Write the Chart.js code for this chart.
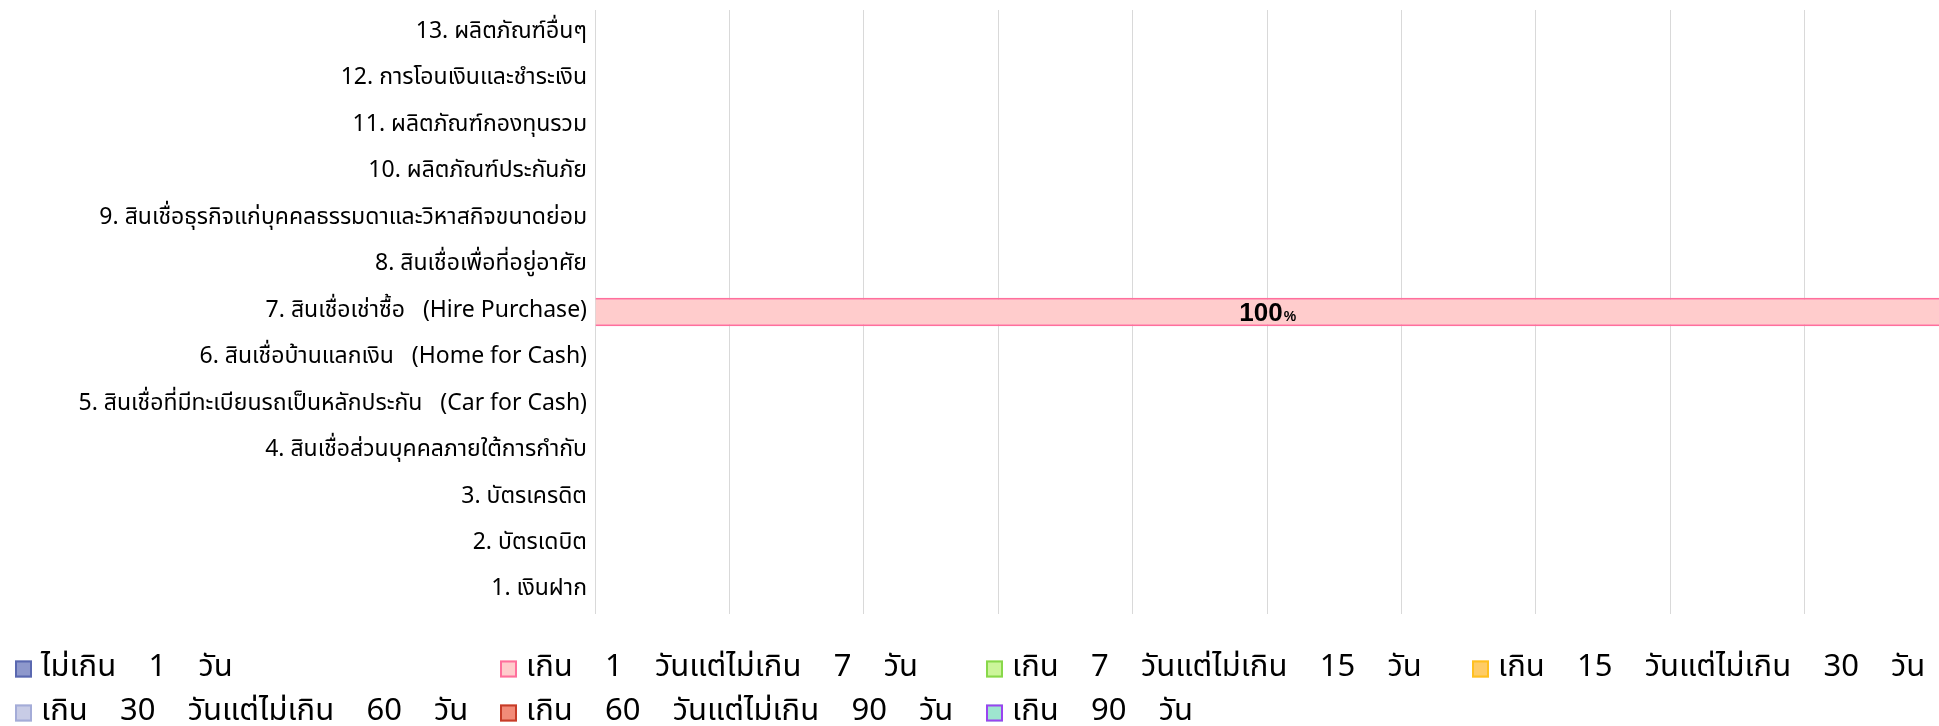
<!DOCTYPE html>
<html>
<head>
<meta charset="utf-8">
<script src="https://cdn.jsdelivr.net/npm/chart.js@4.4.1/dist/chart.umd.min.js"></script>
<style>
	html, body { margin: 0; padding: 0; background: #fff; overflow: hidden; }
	canvas { display: block; }
</style>
</head>
<body>
<canvas id="chart" width="1939" height="726"></canvas>
<script>
// categories, bottom (1) to top (13)
const categories = [
	'1. เงินฝาก',
	'2. บัตรเดบิต',
	'3. บัตรเครดิต',
	'4. สินเชื่อส่วนบุคคลภายใต้การกำกับ',
	'5. สินเชื่อที่มีทะเบียนรถเป็นหลักประกัน   (Car for Cash)',
	'6. สินเชื่อบ้านแลกเงิน   (Home for Cash)',
	'7. สินเชื่อเช่าซื้อ   (Hire Purchase)',
	'8. สินเชื่อเพื่อที่อยู่อาศัย',
	'9. สินเชื่อธุรกิจแก่บุคคลธรรมดาและวิหาสกิจขนาดย่อม',
	'10. ผลิตภัณฑ์ประกันภัย',
	'11. ผลิตภัณฑ์กองทุนรวม',
	'12. การโอนเงินและชำระเงิน',
	'13. ผลิตภัณฑ์อื่นๆ',
];

const seriesNames = [
	'ไม่เกิน    1    วัน',
	'เกิน    1    วันแต่ไม่เกิน    7    วัน',
	'เกิน    7    วันแต่ไม่เกิน    15    วัน',
	'เกิน    15    วันแต่ไม่เกิน    30    วัน',
	'เกิน    30    วันแต่ไม่เกิน    60    วัน',
	'เกิน    60    วันแต่ไม่เกิน    90    วัน',
	'เกิน    90    วัน',
];

// percent share per category
const upTo1Day = [0, 0, 0, 0, 0, 0, 0, 0, 0, 0, 0, 0, 0];
const days1to7 = [0, 0, 0, 0, 0, 0, 100, 0, 0, 0, 0, 0, 0];
const days7to15 = [0, 0, 0, 0, 0, 0, 0, 0, 0, 0, 0, 0, 0];
const days15to30 = [0, 0, 0, 0, 0, 0, 0, 0, 0, 0, 0, 0, 0];
const days30to60 = [0, 0, 0, 0, 0, 0, 0, 0, 0, 0, 0, 0, 0];
const days60to90 = [0, 0, 0, 0, 0, 0, 0, 0, 0, 0, 0, 0, 0];
const over90Days = [0, 0, 0, 0, 0, 0, 0, 0, 0, 0, 0, 0, 0];

const xTicks = [0, 10, 20, 30, 40, 50, 60, 70, 80, 90, 100];

const fills = ['#8e98cc', '#ffcccc', '#ccf59a', '#ffcc66', '#c8cce6', '#f28b78', '#9ee6cf'];
const borders = ['#5a68b0', '#ff6f9c', '#88d84a', '#ffc020', '#a4acd8', '#c63c28', '#9a44f0'];

const seriesData = [upTo1Day, days1to7, days7to15, days15to30, days30to60, days60to90, over90Days];

const thaiFont = "Tahoma, 'Noto Sans Thai', 'Leelawadee UI', 'Noto Sans', sans-serif";

const valueLabels = {
	id: 'valueLabels',
	afterDatasetsDraw(chart) {
		const ctx = chart.ctx;
		const big = "bold 26px 'Liberation Sans', Arial, sans-serif";
		const small = "bold 14px 'Liberation Sans', Arial, sans-serif";
		chart.data.datasets.forEach((ds, di) => {
			const meta = chart.getDatasetMeta(di);
			meta.data.forEach((bar, i) => {
				const v = ds.data[i];
				if (!v) return;
				const cx = (bar.x + bar.base) / 2;
				const cy = bar.y;
				ctx.save();
				ctx.fillStyle = '#000';
				ctx.textBaseline = 'alphabetic';
				const num = String(v);
				ctx.font = big;
				const w1 = ctx.measureText(num).width;
				ctx.font = small;
				const w2 = ctx.measureText('%').width;
				const x = cx - (w1 + w2) / 2;
				ctx.font = big;
				ctx.fillText(num, x, cy + 9);
				ctx.font = small;
				ctx.fillText('%', x + w1 + 1, cy + 9);
				ctx.restore();
			});
		});
	},
};

const gridLegend = {
	id: 'gridLegend',
	afterDraw(chart) {
		const ctx = chart.ctx;
		const colX = [15, 500, 986, 1472];
		const rowY = [669, 713];
		const box = 17;
		ctx.save();
		ctx.font = '31px ' + thaiFont;
		ctx.textBaseline = 'middle';
		chart.data.datasets.forEach((ds, i) => {
			const x = colX[i % 4];
			const y = rowY[Math.floor(i / 4)];
			ctx.fillStyle = ds.backgroundColor;
			ctx.fillRect(x, y - box / 2, box, box);
			ctx.strokeStyle = ds.borderColor;
			ctx.lineWidth = 2;
			ctx.strokeRect(x + 1, y - box / 2 + 1, box - 2, box - 2);
			ctx.fillStyle = '#000';
			ctx.fillText(ds.label, x + box + 9, y + 1);
		});
		ctx.restore();
	},
};

new Chart(document.getElementById('chart'), {
	type: 'bar',
	data: {
		labels: categories,
		datasets: seriesData.map((values, i) => ({
			label: seriesNames[i],
			data: values,
			backgroundColor: fills[i],
			borderColor: borders[i],
			borderWidth: { top: 2, bottom: 2, left: 0, right: 0 },
			borderSkipped: false,
			categoryPercentage: 1,
			barPercentage: 0.61,
		})),
	},
	options: {
		indexAxis: 'y',
		responsive: false,
		animation: false,
		devicePixelRatio: 1,
		layout: { padding: { top: 10, bottom: 112, left: 0, right: 0 } },
		plugins: {
			legend: { display: false },
			tooltip: { enabled: false },
		},
		scales: {
			x: {
				stacked: true,
				min: 0,
				max: 100,
				afterBuildTicks(scale) {
					scale.ticks = xTicks.map((v) => ({ value: v }));
				},
				ticks: { display: false },
				grid: { color: '#d9d9d9', lineWidth: 1, drawTicks: false },
				border: { display: false },
				afterFit(scale) { scale.height = 0; },
			},
			y: {
				stacked: true,
				reverse: true,
				grid: { display: false, drawTicks: false },
				border: { display: false },
				ticks: {
					autoSkip: false,
					color: '#000',
					padding: 8,
					font: { family: thaiFont, size: 23 },
				},
				afterFit(scale) {
					scale.width = 595;
					scale.paddingTop = 0;
					scale.paddingBottom = 0;
				},
			},
		},
	},
	plugins: [valueLabels, gridLegend],
});
</script>
</body>
</html>
